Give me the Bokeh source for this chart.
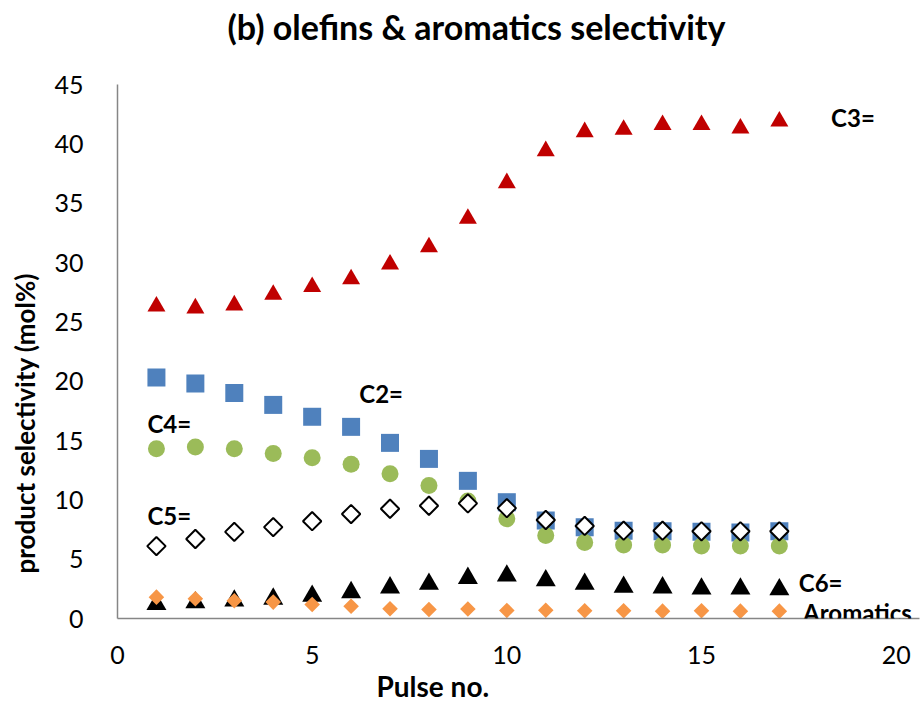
import numpy as np
from bokeh.plotting import figure
from bokeh.models import Range1d, SingleIntervalTicker, Label, Title, ColumnDataSource
from bokeh.embed import file_html
from bokeh.resources import INLINE

# Pulse number and product selectivities (mol%)
pulse = list(range(1, 18))
c2_ethylene = [20.3, 19.8, 19.0, 18.0, 17.0, 16.15, 14.8, 13.45, 11.6, 9.8,
               8.25, 7.7, 7.4, 7.35, 7.3, 7.25, 7.35]
c3_propylene = [26.3, 26.15, 26.4, 27.3, 27.95, 28.6, 29.85, 31.3, 33.7, 36.7,
                39.4, 41.0, 41.2, 41.6, 41.6, 41.3, 41.9]
c4_butenes = [14.3, 14.45, 14.3, 13.9, 13.55, 13.0, 12.2, 11.2, 9.9, 8.4,
              7.0, 6.4, 6.2, 6.2, 6.1, 6.1, 6.1]
c5_pentenes = [6.1, 6.7, 7.3, 7.7, 8.2, 8.8, 9.25, 9.5, 9.7, 9.3,
               8.3, 7.8, 7.4, 7.4, 7.35, 7.35, 7.35]
c6_hexenes = [1.2, 1.35, 1.5, 1.65, 1.9, 2.2, 2.6, 2.9, 3.4, 3.6,
              3.2, 2.9, 2.65, 2.6, 2.5, 2.5, 2.45]
aromatics = [1.8, 1.66, 1.5, 1.38, 1.18, 1.04, 0.82, 0.76, 0.8, 0.68,
             0.7, 0.65, 0.65, 0.62, 0.65, 0.62, 0.62]

x_ticks = [0, 5, 10, 15, 20]
y_ticks = [0, 5, 10, 15, 20, 25, 30, 35, 40, 45]

FONT = "Lato"
AXIS_GRAY = "#868686"

src = ColumnDataSource(dict(x=pulse, c2=c2_ethylene, c3=c3_propylene, c4=c4_butenes,
                            c5=c5_pentenes, c6=c6_hexenes, arom=aromatics))

# the frame runs a little past 20 so the "Aromatics" label is not clipped
p = figure(width=923, height=710, output_backend="svg", toolbar_location=None,
           title=None,
           x_range=Range1d(x_ticks[0], 20.6), y_range=Range1d(y_ticks[0], y_ticks[-1]),
           min_border_left=117, min_border_right=4, min_border_top=84, min_border_bottom=92)

p.outline_line_color = None
p.grid.visible = False
p.background_fill_color = "white"
p.border_fill_color = "white"

p.xaxis.ticker = SingleIntervalTicker(interval=5)
p.yaxis.ticker = SingleIntervalTicker(interval=5)
for ax in (p.xaxis, p.yaxis):
    ax.axis_line_color = AXIS_GRAY
    ax.axis_line_width = 1.5
    ax.major_tick_line_color = None
    ax.minor_tick_line_color = None
    ax.major_tick_out = 0
    ax.major_tick_in = 0
    ax.major_label_text_font = FONT
    ax.major_label_text_font_size = "25px"
    ax.major_label_text_color = "black"
p.xaxis.major_label_standoff = 23
p.yaxis.major_label_standoff = 30

# spacing between the y tick labels and the y title
p.yaxis.axis_label = " "
p.yaxis.axis_label_text_font_size = "1px"
p.yaxis.axis_label_standoff = 6

# Series, drawn in legend order so later ones sit on top
p.scatter("x", "c2", source=src, marker="square", size=18,
          fill_color="#4F81BD", line_color=None)
p.scatter("x", "c3", source=src, marker="triangle", size=18,
          fill_color="#C00000", line_color=None)
p.scatter("x", "c4", source=src, marker="circle", size=17,
          fill_color="#9BBB59", line_color=None)
p.scatter("x", "c5", source=src, marker="square", size=13, angle=np.pi / 4,
          fill_color="white", line_color="black", line_width=2)
p.scatter("x", "c6", source=src, marker="triangle", size=20,
          fill_color="black", line_color=None)
p.scatter("x", "arom", source=src, marker="square", size=11, angle=np.pi / 4,
          fill_color="#F79646", line_color=None)


def add_text(x, y, text, size="24px"):
    p.add_layout(Label(x=x, y=y, text=text, text_font=FONT, text_font_size=size,
                       text_font_style="bold", text_align="left",
                       text_baseline="middle", text_color="black"))


# Series labels
add_text(18.33, 42.2, "C3=")
add_text(6.21, 19.0, "C2=")
add_text(0.77, 16.45, "C4=")
add_text(0.77, 8.7, "C5=")
add_text(17.5, 3.04, "C6=")
add_text(17.61, 0.5, "Aromatics")

# Title block: a blank spacer next to the frame, then the chart title
p.add_layout(Title(text=" ", text_font_size="1px", standoff=33), "above")
p.add_layout(Title(text="(b) olefins & aromatics selectivity", text_font=FONT,
                   text_font_size="34px", text_font_style="bold", text_color="black",
                   align="left", offset=110, standoff=4, vertical_align="bottom"), "above")

p.add_layout(Title(text="Pulse no.", text_font=FONT, text_font_size="28px",
                   text_font_style="bold", text_color="black", align="left",
                   offset=259, standoff=0, vertical_align="bottom"), "below")

p.add_layout(Title(text="product selectivity (mol%)", text_font=FONT,
                   text_font_size="26px", text_font_style="bold", text_color="black",
                   align="left", offset=45, standoff=2, vertical_align="bottom"), "left")

open("out.html", "w").write(file_html(p, INLINE))
